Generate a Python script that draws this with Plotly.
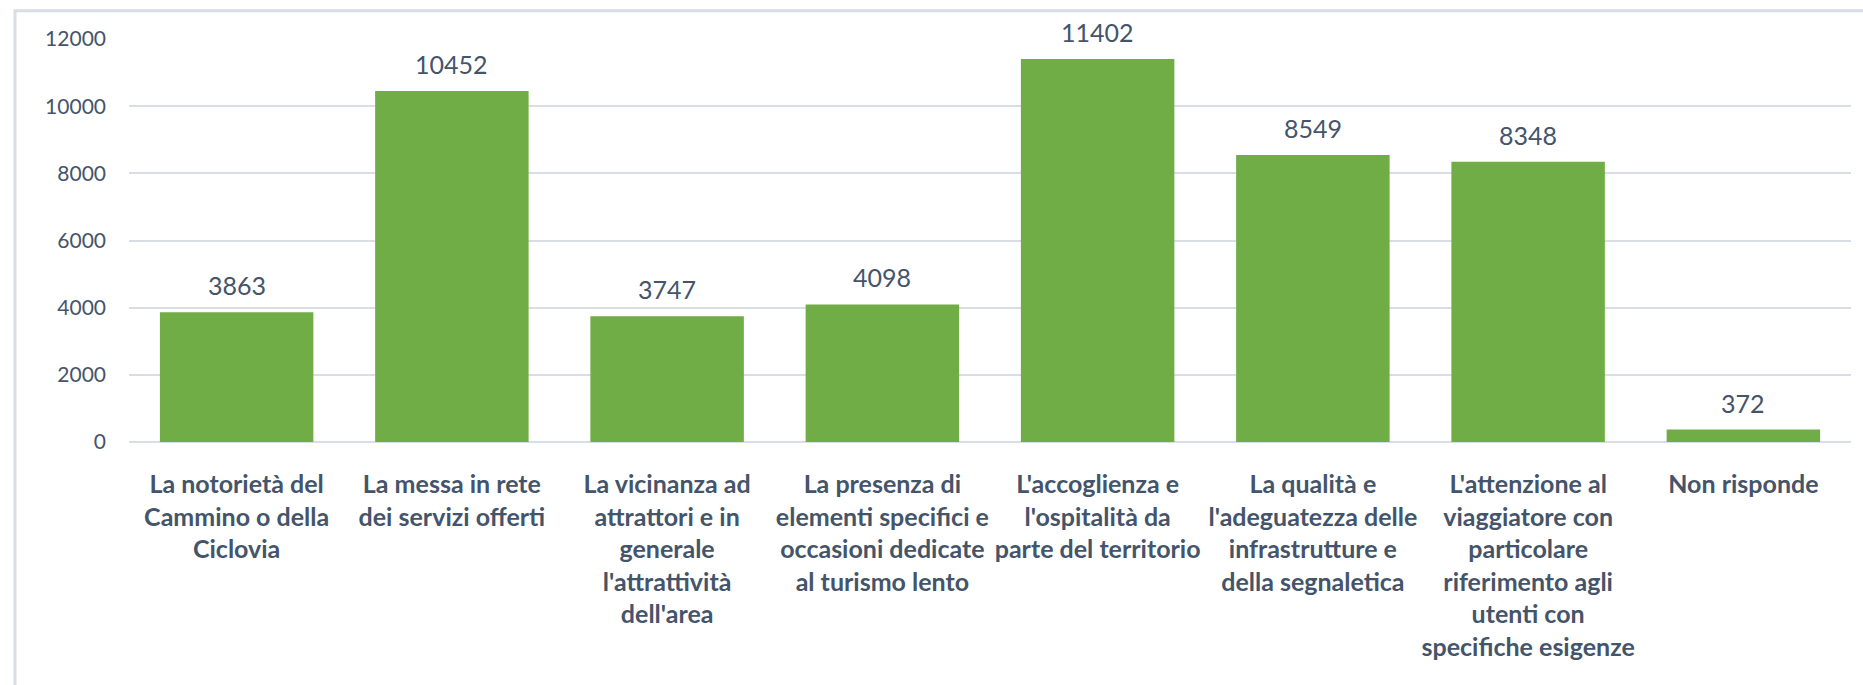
import plotly.graph_objects as go

BAR_COLOR = "#70AD47"
TEXT_COLOR = "#44546A"
GRID_COLOR = "#D9DEE6"
FONT = "Lato, Liberation Sans, Arial, sans-serif"

categories = [
    "La notorietà del<br>Cammino o della<br>Ciclovia",
    "La messa in rete<br>dei servizi offerti",
    "La vicinanza ad<br>attrattori e in<br>generale<br>l'attrattività<br>dell'area",
    "La presenza di<br>elementi specifici e<br>occasioni dedicate<br>al turismo lento",
    "L'accoglienza e<br>l'ospitalità da<br>parte del territorio",
    "La qualità e<br>l'adeguatezza delle<br>infrastrutture e<br>della segnaletica",
    "L'attenzione al<br>viaggiatore con<br>particolare<br>riferimento agli<br>utenti con<br>specifiche esigenze",
    "Non risponde",
]
values = [3863, 10452, 3747, 4098, 11402, 8549, 8348, 372]
y_ticks = [0, 2000, 4000, 6000, 8000, 10000, 12000]
y_tick_labels = ["0", "2000", "4000", "6000", "8000", "10000", "12000"]

fig = go.Figure()
fig.add_bar(
    x=categories,
    y=values,
    marker=dict(color=BAR_COLOR, line=dict(width=0)),
    hovertemplate="%{y}<extra></extra>",
)

# value labels above each bar
for cat, val in zip(categories, values):
    fig.add_annotation(
        x=cat,
        y=val,
        text=str(val),
        showarrow=False,
        yanchor="bottom",
        yshift=10,
        font=dict(size=25, color=TEXT_COLOR, family=FONT),
    )

# light frame around the chart area
fig.add_shape(
    type="rect",
    xref="paper",
    yref="paper",
    x0=-0.0662,
    x1=1.2,
    y0=-1.0,
    y1=1.070,
    line=dict(color=GRID_COLOR, width=3),
    fillcolor="rgba(0,0,0,0)",
    layer="below",
)

fig.update_layout(
    width=1863,
    height=685,
    paper_bgcolor="white",
    plot_bgcolor="white",
    margin=dict(l=129, r=12, t=39, b=243),
    bargap=0.287,
    showlegend=False,
    font=dict(family=FONT, color=TEXT_COLOR),
)
fig.update_xaxes(
    showgrid=False,
    showline=False,
    zeroline=False,
    tickangle=0,
    ticklabelstandoff=25,
    tickfont=dict(size=25, color=TEXT_COLOR, family=FONT, weight="bold"),
)
fig.update_yaxes(
    range=[0, 12000],
    tickvals=y_ticks,
    ticktext=y_tick_labels,
    showgrid=True,
    gridcolor=GRID_COLOR,
    gridwidth=2,
    zeroline=True,
    zerolinecolor=GRID_COLOR,
    zerolinewidth=2,
    showline=False,
    ticklabelstandoff=22,
    tickfont=dict(size=21, color=TEXT_COLOR, family=FONT),
)

fig.write_html(
    "out.html",
    config={"displayModeBar": False},
    post_script="document.body.style.margin='0';",
)
